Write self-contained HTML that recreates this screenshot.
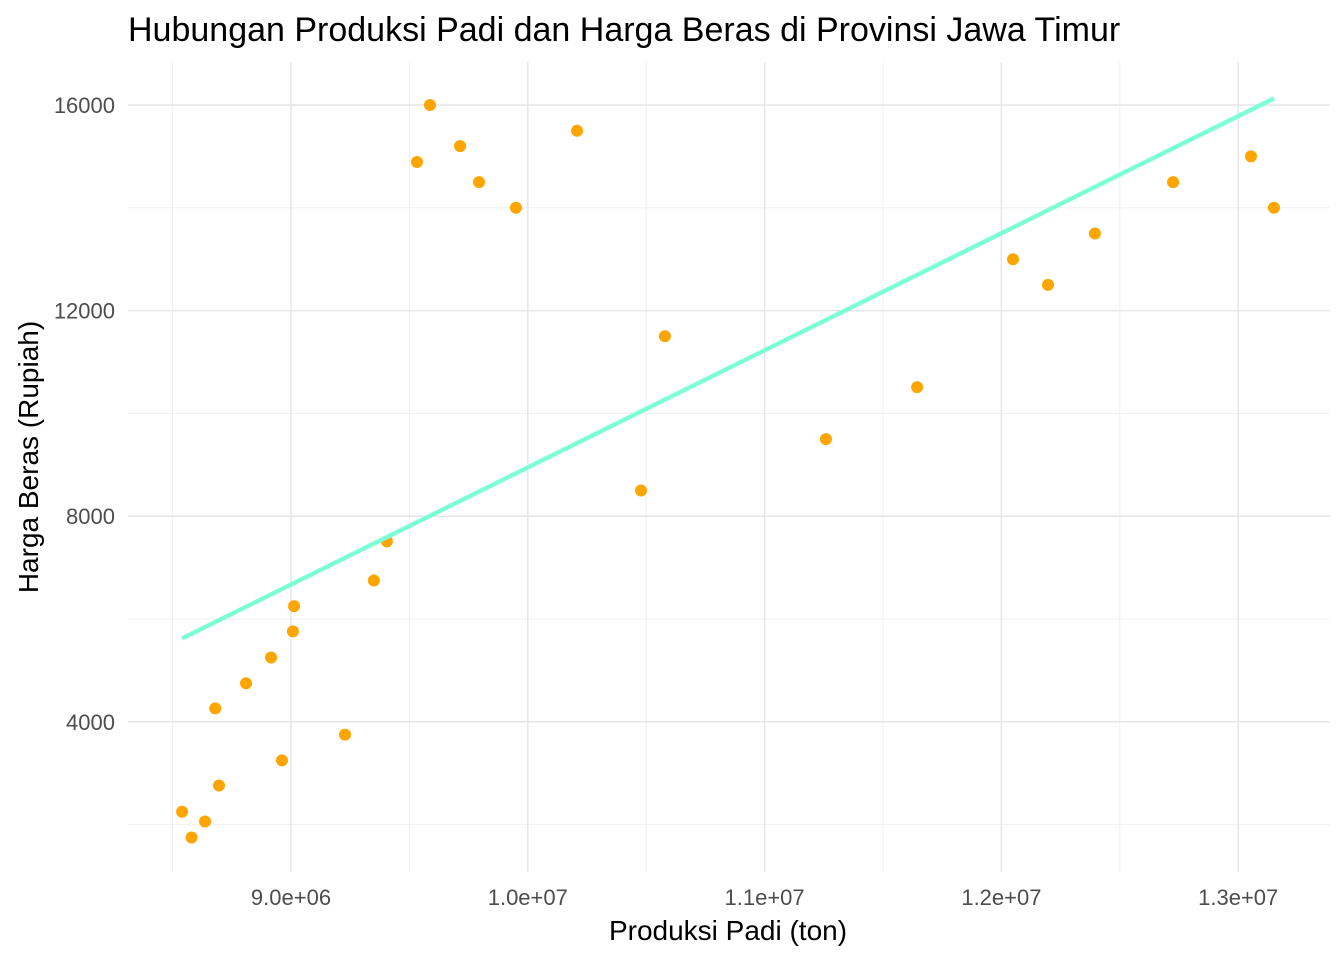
<!DOCTYPE html>
<html><head><meta charset="utf-8"><style>
body{margin:0;background:#fff;}
svg{display:block;font-family:"Liberation Sans",Arial,sans-serif;}
</style></head><body>
<svg id="chart" width="1344" height="960">
<text x="128" y="41" font-size="34" fill="#000">Hubungan Produksi Padi dan Harga Beras di Provinsi Jawa Timur</text>
<g id="grid"></g>
<g id="ticks"></g>
<text x="728" y="940" font-size="28" text-anchor="middle" fill="#000">Produksi Padi (ton)</text>
<text transform="translate(38,457) rotate(-90)" font-size="28" text-anchor="middle" fill="#000">Harga Beras (Rupiah)</text>
<g id="marks"></g>
</svg>
<script>
const produksi=[8.54e6,8.58e6,8.637e6,8.68e6,8.696e6,8.81e6,8.916e6,8.962e6,9.008e6,9.013e6,9.228e6,9.35e6,9.405e6,9.532e6,9.587e6,9.714e6,9.794e6,9.95e6,10.208e6,10.478e6,10.579e6,11.259e6,11.644e6,12.049e6,12.197e6,12.395e6,12.725e6,13.054e6,13.151e6];
const harga=[2250,1750,2060,4260,2760,4750,5250,3250,5760,6250,3750,6750,7510,14890,16000,15200,14500,14000,15500,8500,11500,9500,10510,13000,12500,13500,14500,15000,14000];
const xTicks=[9e6,1e7,1.1e7,1.2e7,1.3e7];
const xTickLabels=["9.0e+06","1.0e+07","1.1e+07","1.2e+07","1.3e+07"];
const yTicks=[4000,8000,12000,16000];
const yTickLabels=["4000","8000","12000","16000"];
const xMinor=[8.5e6,9.5e6,1.05e7,1.15e7,1.25e7];
const yMinor=[2000,6000,10000,14000];

const X=v=>291+(v-9e6)/1e6*236.8;
const Y=v=>105+(16000-v)/1000*51.4;
const NS="http://www.w3.org/2000/svg";
function mk(tag,attrs,parent){const e=document.createElementNS(NS,tag);for(const k in attrs)e.setAttribute(k,attrs[k]);parent.appendChild(e);return e;}
const grid=document.getElementById('grid'),ticks=document.getElementById('ticks'),marks=document.getElementById('marks');
const L=128,R=1330,T=62,B=872;
xMinor.forEach(v=>{const l=mk('line',{x1:X(v),x2:X(v),y1:T,y2:B,stroke:'#f0f0f0','stroke-width':1},grid);

});
yMinor.forEach(v=>{const l=mk('line',{x1:L,x2:R,y1:Y(v),y2:Y(v),stroke:'#f0f0f0','stroke-width':1},grid);

});
xTicks.forEach((v,i)=>{const l=mk('line',{x1:X(v),x2:X(v),y1:T,y2:B,stroke:'#e6e6e6','stroke-width':1.5},grid);


const t=mk('text',{x:X(v),y:905,'font-size':22,'text-anchor':'middle',fill:'#4d4d4d'},ticks);t.textContent=xTickLabels[i];

});
yTicks.forEach((v,i)=>{const l=mk('line',{x1:L,x2:R,y1:Y(v),y2:Y(v),stroke:'#e6e6e6','stroke-width':1.5},grid);


const t=mk('text',{x:115,y:Y(v)+8,'font-size':22,'text-anchor':'end',fill:'#4d4d4d'},ticks);t.textContent=yTickLabels[i];

});
produksi.forEach((v,i)=>{const c=mk('circle',{cx:X(v),cy:Y(harga[i]),r:6,fill:'#FFA500'},marks);

});
const n=produksi.length;const mx=produksi.reduce((a,b)=>a+b)/n,my=harga.reduce((a,b)=>a+b)/n;
let sxy=0,sxx=0;for(let i=0;i<n;i++){sxy+=(produksi[i]-mx)*(harga[i]-my);sxx+=(produksi[i]-mx)**2;}
const b=sxy/sxx,a=my-b*mx;const x0=Math.min(...produksi),x1=Math.max(...produksi);
const fl=mk('line',{x1:X(x0),y1:Y(a+b*x0),x2:X(x1),y2:Y(a+b*x1),stroke:'#7FFFD4','stroke-width':4.5},marks);


</script>
</body></html>
